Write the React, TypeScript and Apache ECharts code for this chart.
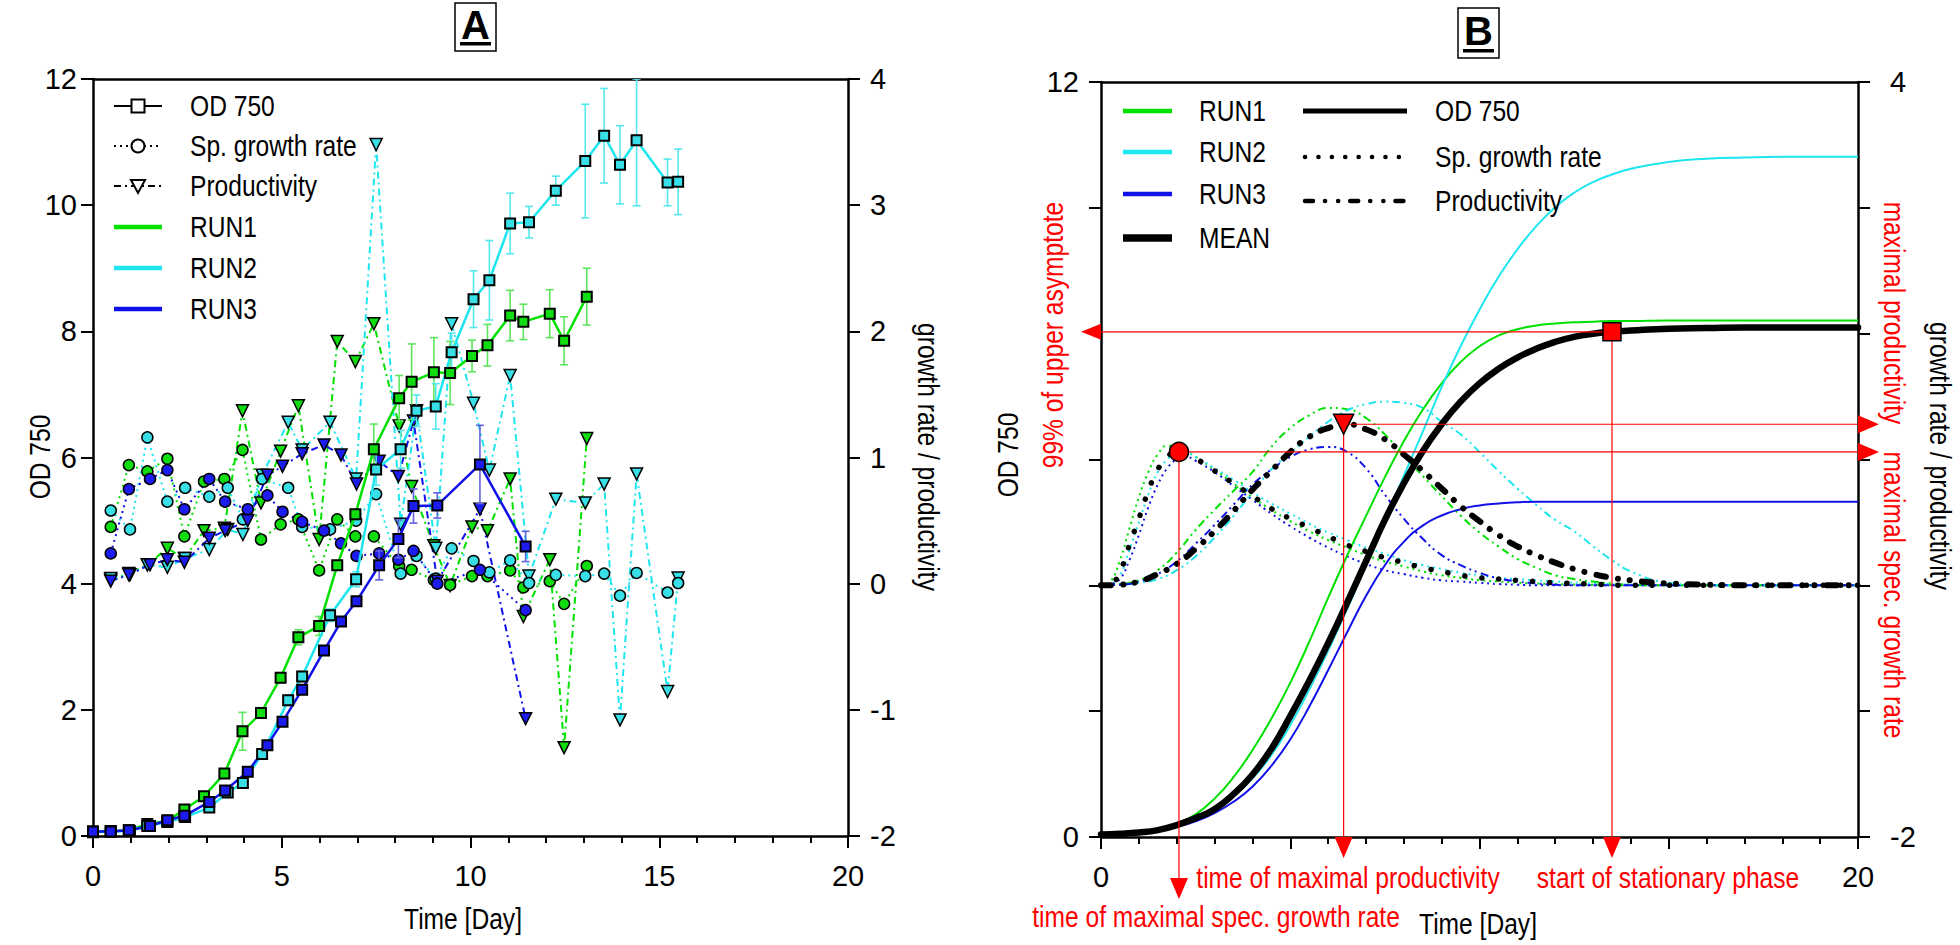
import React, { useEffect, useRef } from 'react';
import * as echarts from 'echarts';

// ---------------- Panel A : measured data ----------------
const run1Days = [0, 0.47, 0.95, 1.44, 1.97, 2.42, 2.94, 3.48, 3.96, 4.45, 4.97, 5.44, 5.99, 6.47, 6.95, 7.44, 8.11, 8.44, 9.03, 9.46, 10.04, 10.45, 11.05, 11.4, 12.1, 12.48, 13.08];
const run1OD = [0.07, 0.08, 0.09, 0.19, 0.24, 0.42, 0.63, 0.99, 1.66, 1.95, 2.51, 3.15, 3.33, 4.29, 5.1, 6.13, 6.94, 7.2, 7.35, 7.34, 7.61, 7.78, 8.25, 8.15, 8.28, 7.85, 8.55];
const run1ODErr = [0, 0, 0, 0.02, 0.03, 0.03, 0.04, 0.05, 0.3, 0.05, 0.08, 0.12, 0.15, 0.05, 0.08, 0.4, 0.36, 0.6, 0.55, 0.5, 0.25, 0.33, 0.4, 0.28, 0.38, 0.38, 0.45];
const run1Mu = [null, 0.45, 0.94, 0.89, 0.99, 0.375, 0.81, 0.83, 1.06, 0.35, 0.47, 0.51, 0.105, 0.51, 0.375, 0.375, 0.14, 0.11, 0.03, -0.01, 0.06, 0.06, 0.105, -0.03, 0.02, -0.16, 0.14];
const run1Prod = [null, 0.03, 0.08, 0.15, 0.28, 0.2, 0.42, 0.44, 1.37, 0.64, 1.05, 1.41, 0.35, 1.92, 1.76, 2.06, 1.25, 0.77, 0.3, -0.015, 0.45, 0.42, 0.83, -0.26, 0.19, -1.3, 1.15];

const run2Days = [0, 0.47, 0.98, 1.44, 1.97, 2.44, 3.08, 3.57, 3.97, 4.48, 5.17, 5.54, 6.28, 6.97, 7.5, 8.15, 8.57, 9.08, 9.5, 10.08, 10.5, 11.05, 11.55, 12.26, 13.04, 13.54, 13.96, 14.4, 15.22, 15.5];
const run2OD = [0.06, 0.07, 0.08, 0.16, 0.22, 0.3, 0.45, 0.69, 0.84, 1.3, 2.15, 2.53, 3.5, 4.07, 5.81, 6.13, 6.74, 6.81, 7.67, 8.51, 8.81, 9.71, 9.73, 10.23, 10.7, 11.1, 10.64, 11.03, 10.36, 10.37];
const run2ODErr = [0, 0, 0, 0.02, 0.02, 0.03, 0.03, 0.04, 0.05, 0.06, 0.08, 0.08, 0.1, 0.12, 0.25, 0.3, 0.25, 0.36, 0.3, 0.45, 0.63, 0.48, 0.25, 0.23, 0.9, 0.75, 0.62, 1.04, 0.37, 0.52];
const run2Mu = [null, 0.58, 0.43, 1.16, 0.65, 0.76, 0.69, 0.76, 0.51, 0.83, 0.76, 0.45, 0.43, 0.5, 0.71, 0.08, 0.22, 0.04, 0.28, 0.18, 0.09, 0.185, 0.005, 0.07, 0.06, 0.08, -0.095, 0.085, -0.07, 0.005];
const run2Prod = [null, 0.04, 0.07, 0.15, 0.13, 0.2, 0.27, 0.43, 0.39, 0.86, 1.28, 1.06, 1.28, 0.83, 3.48, 0.47, 1.37, 0.28, 2.06, 1.43, 0.9, 1.65, 0.06, 0.67, 0.64, 0.79, -1.08, 0.87, -0.855, 0.045];

const run3Days = [0, 0.47, 0.95, 1.51, 1.97, 2.42, 3.08, 3.5, 4.1, 4.62, 5.02, 5.54, 6.12, 6.57, 6.98, 7.58, 8.09, 8.49, 9.12, 10.25, 11.46];
const run3OD = [0.07, 0.07, 0.09, 0.16, 0.25, 0.32, 0.54, 0.72, 1.02, 1.44, 1.81, 2.32, 2.94, 3.4, 3.72, 4.29, 4.71, 5.23, 5.24, 5.89, 4.59];
const run3ODErr = [0, 0, 0, 0, 0.02, 0.02, 0.03, 0.03, 0.04, 0.04, 0.05, 0.05, 0.06, 0.06, 0.07, 0.23, 0.3, 0.27, 0.2, 0.62, 0.24];
const run3Mu = [null, 0.24, 0.75, 0.83, 0.9, 0.59, 0.83, 0.65, 0.59, 0.7, 0.57, 0.49, 0.42, 0.32, 0.22, 0.24, 0.19, 0.26, 0.0, 0.11, -0.21];
const run3Prod = [null, 0.02, 0.07, 0.15, 0.19, 0.17, 0.36, 0.42, 0.5, 0.86, 0.93, 1.03, 1.1, 1.02, 0.79, 0.97, 0.85, 1.29, 0.02, 0.59, -1.07];

// ---------------- Panel B : fitted curves ----------------
const fitDays = [0, 0.5, 1, 1.5, 2, 2.5, 3, 3.5, 4, 4.5, 5, 5.5, 6, 6.5, 7, 7.5, 8, 8.5, 9, 9.5, 10, 10.5, 11, 11.5, 12, 12.5, 13, 13.5, 14, 15, 16, 17, 18, 19, 20];
const fitRun1OD = [0.04, 0.05, 0.08, 0.13, 0.21, 0.36, 0.61, 0.95, 1.38, 1.88, 2.45, 3.1, 3.8, 4.47, 5.1, 5.72, 6.29, 6.79, 7.21, 7.55, 7.8, 7.97, 8.07, 8.13, 8.16, 8.18, 8.19, 8.2, 8.2, 8.21, 8.21, 8.21, 8.21, 8.21, 8.21];
const fitRun2OD = [0.03, 0.04, 0.06, 0.11, 0.18, 0.29, 0.45, 0.66, 0.93, 1.3, 1.78, 2.34, 2.96, 3.62, 4.32, 5.03, 5.74, 6.44, 7.15, 7.8, 8.38, 8.9, 9.34, 9.71, 10.01, 10.24, 10.41, 10.53, 10.62, 10.73, 10.78, 10.8, 10.81, 10.81, 10.81];
const fitRun3OD = [0.03, 0.04, 0.05, 0.09, 0.16, 0.25, 0.38, 0.56, 0.8, 1.13, 1.55, 2.07, 2.65, 3.25, 3.83, 4.32, 4.69, 4.95, 5.11, 5.21, 5.27, 5.3, 5.32, 5.33, 5.33, 5.33, 5.33, 5.33, 5.33, 5.33, 5.33, 5.33, 5.33, 5.33, 5.33];
const fitMeanOD = [0.04, 0.05, 0.07, 0.11, 0.19, 0.3, 0.44, 0.68, 0.99, 1.4, 1.92, 2.48, 3.08, 3.72, 4.38, 5.04, 5.62, 6.13, 6.56, 6.92, 7.21, 7.44, 7.62, 7.76, 7.87, 7.95, 8.0, 8.03, 8.05, 8.08, 8.09, 8.1, 8.1, 8.1, 8.1];

const fitRun1Prod = [0, 0.01, 0.04, 0.12, 0.26, 0.44, 0.6, 0.75, 0.9, 1.1, 1.25, 1.35, 1.41, 1.4, 1.33, 1.2, 1.03, 0.87, 0.71, 0.555, 0.42, 0.31, 0.21, 0.14, 0.08, 0.05, 0.03, 0.015, 0.005, 0, 0, 0, 0, 0, 0];
const fitRun2Prod = [0, 0.005, 0.02, 0.05, 0.12, 0.23, 0.38, 0.55, 0.74, 0.92, 1.05, 1.18, 1.3, 1.39, 1.44, 1.46, 1.45, 1.41, 1.3, 1.2, 1.06, 0.91, 0.77, 0.64, 0.52, 0.43, 0.31, 0.2, 0.11, 0.02, 0, 0, 0, 0, 0];
const fitRun3Prod = [0, 0.005, 0.03, 0.09, 0.19, 0.33, 0.48, 0.64, 0.8, 0.92, 1.02, 1.08, 1.1, 1.06, 0.93, 0.72, 0.53, 0.37, 0.24, 0.16, 0.1, 0.055, 0.03, 0.015, 0.005, 0, 0, 0, 0, 0, 0, 0, 0, 0, 0];
const fitMeanProd = [0, 0.005, 0.03, 0.09, 0.17, 0.29, 0.43, 0.59, 0.76, 0.91, 1.06, 1.18, 1.25, 1.28, 1.24, 1.16, 1.04, 0.91, 0.77, 0.63, 0.51, 0.4, 0.31, 0.24, 0.18, 0.13, 0.09, 0.06, 0.04, 0.015, 0.005, 0, 0, 0, 0];

const muDays = [0, 0.25, 0.5, 0.75, 1, 1.25, 1.5, 1.75, 2, 2.25, 2.5, 3, 3.5, 4, 4.5, 5, 5.5, 6, 6.5, 7, 7.5, 8, 8.5, 9, 9.5, 10, 10.5, 11, 11.5, 12, 13, 14, 15, 16, 18, 20];
const fitRun1Mu = [0, 0.03, 0.2, 0.45, 0.7, 0.9, 1.04, 1.11, 1.11, 1.07, 1.02, 0.92, 0.81, 0.7, 0.6, 0.51, 0.43, 0.36, 0.3, 0.24, 0.19, 0.15, 0.11, 0.08, 0.06, 0.04, 0.03, 0.02, 0.015, 0.01, 0.005, 0, 0, 0, 0, 0];
const fitRun2Mu = [0, 0.01, 0.08, 0.28, 0.5, 0.72, 0.9, 1.0, 1.05, 1.05, 1.02, 0.93, 0.84, 0.74, 0.65, 0.57, 0.49, 0.42, 0.36, 0.3, 0.25, 0.2, 0.16, 0.13, 0.1, 0.08, 0.06, 0.05, 0.04, 0.03, 0.015, 0.005, 0, 0, 0, 0];
const fitRun3Mu = [0, 0.01, 0.05, 0.2, 0.4, 0.62, 0.8, 0.93, 1.0, 1.02, 0.99, 0.9, 0.79, 0.68, 0.57, 0.47, 0.38, 0.3, 0.23, 0.17, 0.12, 0.09, 0.06, 0.04, 0.03, 0.02, 0.01, 0.005, 0, 0, 0, 0, 0, 0, 0, 0];
const fitMeanMu = [0, 0.01, 0.11, 0.32, 0.53, 0.75, 0.92, 1.02, 1.06, 1.05, 1.01, 0.91, 0.81, 0.71, 0.61, 0.53, 0.46, 0.39, 0.32, 0.27, 0.22, 0.18, 0.14, 0.11, 0.08, 0.06, 0.05, 0.04, 0.03, 0.02, 0.01, 0, 0, 0, 0, 0];

// characteristic points of the mean curve
const maxMuDay = 2.06;
const maxMu = 1.06;
const maxProdDay = 6.41;
const maxProd = 1.28;
const stationaryDay = 13.5;
const asymptote99 = 8.03;

// ---------------- styling ----------------
const FONT = '"Liberation Sans", Arial, sans-serif';
const NARROW = 0.82;
const GREEN = '#00e100';
const CYAN = '#1ee6ef';
const BLUE = '#1010e8';
const RED = '#ff0000';

const pairs = (ts: number[], vs: (number | null)[]) =>
  ts.map((t, i) => (vs[i] == null ? null : [t, vs[i] as number])).filter((p) => p !== null) as number[][];

export default function App() {
  const ref = useRef<HTMLDivElement>(null);
  useEffect(() => {
    document.body.style.margin = '0';
    const chart = echarts.init(ref.current as HTMLDivElement, null, { renderer: 'svg' });

    const axisLine = { show: true, onZero: false, lineStyle: { color: '#000', width: 2.5 } };
    const labelBase = { fontFamily: FONT, fontSize: 29, color: '#000' };
    const xBottom = (gridIndex: number, all: boolean) => ({
      type: 'value', gridIndex, position: 'bottom', min: 0, max: 20, interval: 5,
      axisLine,
      axisTick: { show: true, inside: false, length: 12, lineStyle: { color: '#000', width: 2 } },
      minorTick: { show: true, splitNumber: 5, length: 7, lineStyle: { color: '#000', width: 2 } },
      axisLabel: { ...labelBase, margin: 25, formatter: (v: number) => (all || v === 0 || v === 20 ? String(v) : '') },
      splitLine: { show: false }, minorSplitLine: { show: false },
    });
    const xTop = (gridIndex: number) => ({
      type: 'value', gridIndex, position: 'top', min: 0, max: 20,
      axisLine, axisTick: { show: false }, axisLabel: { show: false }, splitLine: { show: false },
    });
    const yAx = (gridIndex: number, pos: string, min: number, max: number, interval: number, margin: number, shown: number[] | null) => ({
      type: 'value', gridIndex, position: pos, min, max, interval,
      axisLine,
      axisTick: { show: true, inside: false, length: 12, lineStyle: { color: '#000', width: 2 } },
      axisLabel: { ...labelBase, margin, formatter: (v: number) => (shown === null || shown.includes(v) ? String(v) : '') },
      splitLine: { show: false },
    });

    const runs = [
      { days: run1Days, od: run1OD, err: run1ODErr, mu: run1Mu, prod: run1Prod, color: GREEN, fill: '#10dd10', errColor: '#5ce65c' },
      { days: run2Days, od: run2OD, err: run2ODErr, mu: run2Mu, prod: run2Prod, color: CYAN, fill: '#38dfe6', errColor: '#55e8ee' },
      { days: run3Days, od: run3OD, err: run3ODErr, mu: run3Mu, prod: run3Prod, color: BLUE, fill: '#1c1cee', errColor: '#6262dd' },
    ];

    const series: any[] = [];
    runs.forEach((r) => {
      series.push({
        type: 'line', xAxisIndex: 0, yAxisIndex: 1, data: pairs(r.days, r.prod),
        symbol: 'triangle', symbolRotate: 180, symbolSize: 12, showAllSymbol: true,
        lineStyle: { color: r.color, width: 2, type: [7, 4, 2, 4] },
        itemStyle: { color: r.fill, borderColor: '#000', borderWidth: 1.5 }, z: 3,
      });
      series.push({
        type: 'line', xAxisIndex: 0, yAxisIndex: 1, data: pairs(r.days, r.mu),
        symbol: 'circle', symbolSize: 11, showAllSymbol: true,
        lineStyle: { color: r.color, width: 2, type: [2, 4] },
        itemStyle: { color: r.fill, borderColor: '#000', borderWidth: 1.5 }, z: 3,
      });
    });
    runs.forEach((r) => {
      const errData = r.days
        .map((t, i) => [t, r.od[i] - r.err[i], r.od[i] + r.err[i], r.err[i]])
        .filter((d) => d[3] > 0.06);
      series.push({
        type: 'custom', xAxisIndex: 0, yAxisIndex: 0, data: errData, clip: true, z: 4,
        encode: { x: 0, y: [1, 2] },
        renderItem: (params: any, api: any) => {
          const x = api.value(0);
          const lo = api.coord([x, api.value(1)]);
          const hi = api.coord([x, Math.min(12, api.value(2))]);
          const w = 4;
          const st = { stroke: r.errColor, lineWidth: 1.6 };
          return {
            type: 'group',
            children: [
              { type: 'line', shape: { x1: hi[0], y1: hi[1], x2: lo[0], y2: lo[1] }, style: st },
              { type: 'line', shape: { x1: hi[0] - w, y1: hi[1], x2: hi[0] + w, y2: hi[1] }, style: st },
              { type: 'line', shape: { x1: lo[0] - w, y1: lo[1], x2: lo[0] + w, y2: lo[1] }, style: st },
            ],
          };
        },
      });
      series.push({
        type: 'line', xAxisIndex: 0, yAxisIndex: 0, data: pairs(r.days, r.od),
        symbol: 'rect', symbolSize: 10, showAllSymbol: true,
        lineStyle: { color: r.color, width: 2.5 },
        itemStyle: { color: r.fill, borderColor: '#000', borderWidth: 2 }, z: 5,
      });
    });

    // Panel B curves
    const fitLine = (days: number[], vals: number[], yi: number, color: string, width: number, type: any, cap = 'butt', z = 3) => ({
      type: 'line', xAxisIndex: 2, yAxisIndex: yi, data: pairs(days, vals), symbol: 'none',
      smooth: 0.5,
      lineStyle: { color, width, type, cap }, z,
    });
    series.push(fitLine(muDays, fitRun1Mu, 3, GREEN, 2, [2, 4]));
    series.push(fitLine(muDays, fitRun2Mu, 3, CYAN, 2, [2, 4]));
    series.push(fitLine(muDays, fitRun3Mu, 3, BLUE, 2, [2, 4]));
    series.push(fitLine(fitDays, fitRun1Prod, 3, GREEN, 2, [8, 4, 2, 4, 2, 4]));
    series.push(fitLine(fitDays, fitRun2Prod, 3, CYAN, 2, [8, 4, 2, 4, 2, 4]));
    series.push(fitLine(fitDays, fitRun3Prod, 3, BLUE, 2, [8, 4, 2, 4, 2, 4]));
    series.push(fitLine(fitDays, fitRun1OD, 2, GREEN, 2, 'solid'));
    series.push(fitLine(fitDays, fitRun2OD, 2, CYAN, 2, 'solid'));
    series.push(fitLine(fitDays, fitRun3OD, 2, BLUE, 2, 'solid'));
    series.push(fitLine(muDays, fitMeanMu, 3, '#000', 5.5, [0.1, 17], 'round', 4));
    series.push(fitLine(fitDays, fitMeanProd, 3, '#000', 6, [10, 12, 0.1, 12, 0.1, 12], 'round', 4));
    series.push(fitLine(fitDays, fitMeanOD, 2, '#000', 6.5, 'solid', 'round', 5));

    const redMark = (data: number[][], yi: number, symbol: string, size: number, rotate = 0) => ({
      type: 'scatter', xAxisIndex: 2, yAxisIndex: yi, data, symbol, symbolSize: size, symbolRotate: rotate,
      itemStyle: { color: RED, borderColor: '#000', borderWidth: 1.5, opacity: 1 }, z: 20,
    });
    series.push(redMark([[maxMuDay, maxMu]], 3, 'circle', 19));
    series.push(redMark([[maxProdDay, maxProd]], 3, 'triangle', 20, 180));
    series.push(redMark([[stationaryDay, asymptote99]], 2, 'rect', 18));

    chart.setOption({
      animation: false,
      backgroundColor: '#fff',
      grid: [
        { left: 93, top: 79, width: 755, height: 757 },
        { left: 1101, top: 82, width: 757, height: 755 },
      ],
      xAxis: [xBottom(0, true), xTop(0), xBottom(1, false), xTop(1)],
      yAxis: [
        yAx(0, 'left', 0, 12, 2, 16, null),
        yAx(0, 'right', -2, 4, 1, 22, null),
        yAx(1, 'left', 0, 12, 2, 22, [0, 12]),
        yAx(1, 'right', -2, 4, 1, 32, [4, -2]),
      ],
      series,
    });

    // ---------- graphic overlays ----------
    const X = (t: number) => chart.convertToPixel({ xAxisIndex: 2 } as any, t) as unknown as number;
    const YL = (v: number) => chart.convertToPixel({ yAxisIndex: 2 } as any, v) as unknown as number;
    const YR = (v: number) => chart.convertToPixel({ yAxisIndex: 3 } as any, v) as unknown as number;

    const g: any[] = [];
    const text = (x: number, y: number, s: string, opts: any = {}) =>
      g.push({
        type: 'text', x, y, rotation: opts.rot || 0, scaleX: opts.sx || NARROW, scaleY: 1, z: 100,
        style: {
          text: s, fill: opts.fill || '#000', font: opts.font || `30px ${FONT}`,
          textAlign: opts.align || 'center', textVerticalAlign: 'middle',
        },
      });
    const line = (x1: number, y1: number, x2: number, y2: number, stroke: string, lineWidth: number, lineDash: any = null, cap = 'butt', z = 100) =>
      g.push({ type: 'line', z, shape: { x1, y1, x2, y2 }, style: { stroke, lineWidth, lineDash, lineCap: cap } });
    const poly = (points: number[][], fill: string, z = 100) =>
      g.push({ type: 'polygon', z, shape: { points }, style: { fill } });

    // titles
    g.push({ type: 'rect', z: 100, shape: { x: 455, y: 3, width: 41, height: 48 }, style: { fill: 'none', stroke: '#000', lineWidth: 1.5 } });
    text(475.5, 25, 'A', { font: `bold 40px ${FONT}`, sx: 1 });
    g.push({ type: 'rect', z: 100, shape: { x: 460, y: 42, width: 31, height: 3.5 }, style: { fill: '#000' } });
    g.push({ type: 'rect', z: 100, shape: { x: 1458, y: 8, width: 41, height: 50 }, style: { fill: 'none', stroke: '#000', lineWidth: 1.5 } });
    text(1478.5, 31, 'B', { font: `bold 40px ${FONT}`, sx: 1 });
    g.push({ type: 'rect', z: 100, shape: { x: 1463, y: 49, width: 31, height: 3.5 }, style: { fill: '#000' } });

    // axis titles
    text(40, 457, 'OD 750', { rot: Math.PI / 2 });
    text(928, 457, 'growth rate / productivity', { rot: -Math.PI / 2 });
    text(463, 919, 'Time [Day]');
    text(1008, 455, 'OD 750', { rot: Math.PI / 2 });
    text(1940, 456, 'growth rate / productivity', { rot: -Math.PI / 2 });
    text(1478, 924, 'Time [Day]');

    // legend A
    const lxA1 = 114, lxA2 = 162, ltA = 190;
    const lyA = [106, 146, 186, 227, 268, 309];
    line(lxA1, lyA[0], lxA2, lyA[0], '#000', 2);
    g.push({ type: 'rect', z: 101, shape: { x: 131.5, y: lyA[0] - 6.5, width: 13, height: 13 }, style: { fill: '#fff', stroke: '#000', lineWidth: 2 } });
    line(lxA1, lyA[1], lxA2, lyA[1], '#000', 2, [2, 4]);
    g.push({ type: 'circle', z: 101, shape: { cx: 138, cy: lyA[1], r: 6.5 }, style: { fill: '#fff', stroke: '#000', lineWidth: 2 } });
    line(lxA1, lyA[2], lxA2, lyA[2], '#000', 2, [7, 4, 2, 4]);
    g.push({ type: 'polygon', z: 101, shape: { points: [[131, lyA[2] - 6], [145, lyA[2] - 6], [138, lyA[2] + 7]] }, style: { fill: '#fff', stroke: '#000', lineWidth: 2 } });
    line(lxA1, lyA[3], lxA2, lyA[3], GREEN, 4.5);
    line(lxA1, lyA[4], lxA2, lyA[4], CYAN, 4.5);
    line(lxA1, lyA[5], lxA2, lyA[5], BLUE, 4.5);
    ['OD 750', 'Sp. growth rate', 'Productivity', 'RUN1', 'RUN2', 'RUN3'].forEach((s, i) => text(ltA, lyA[i], s, { align: 'left' }));

    // legend B
    const lyB1 = [111, 152, 194, 238];
    line(1123, lyB1[0], 1172, lyB1[0], GREEN, 4.5);
    line(1123, lyB1[1], 1172, lyB1[1], CYAN, 4.5);
    line(1123, lyB1[2], 1172, lyB1[2], BLUE, 4.5);
    line(1123, lyB1[3], 1172, lyB1[3], '#000', 7.5);
    ['RUN1', 'RUN2', 'RUN3', 'MEAN'].forEach((s, i) => text(1199, lyB1[i], s, { align: 'left' }));
    const lyB2 = [111, 157, 201];
    line(1303, lyB2[0], 1407, lyB2[0], '#000', 5);
    line(1305, lyB2[1], 1402, lyB2[1], '#000', 4.5, [0.1, 13.3], 'round');
    line(1305, lyB2[2], 1405, lyB2[2], '#000', 4.5, [8, 12, 0.1, 13, 0.1, 12], 'round');
    ['OD 750', 'Sp. growth rate', 'Productivity'].forEach((s, i) => text(1435, lyB2[i], s, { align: 'left' }));

    // red annotations in panel B
    const x0 = X(0), x20 = X(20), yb = YL(0);
    const cx = X(maxMuDay), cy = YR(maxMu);
    const tx = X(maxProdDay), ty = YR(maxProd);
    const sx = X(stationaryDay), sy = YL(asymptote99);
    line(cx, cy, x20, cy, RED, 1.2, null, 'butt', 15);
    poly([[x20, cy - 9], [x20, cy + 9], [x20 + 21, cy]], RED);
    line(cx, cy, cx, yb + 45, RED, 1.2, null, 'butt', 15);
    poly([[cx - 9, yb + 41], [cx + 9, yb + 41], [cx, yb + 62]], RED);
    line(tx, ty, x20, ty, RED, 1.2, null, 'butt', 15);
    poly([[x20, ty - 9], [x20, ty + 9], [x20 + 21, ty]], RED);
    line(tx, ty, tx, yb + 2, RED, 1.2, null, 'butt', 15);
    poly([[tx - 9, yb], [tx + 9, yb], [tx, yb + 21]], RED);
    line(x0, sy, sx, sy, RED, 1.2, null, 'butt', 15);
    poly([[x0, sy - 8], [x0, sy + 8], [x0 - 20, sy]], RED);
    line(sx, sy, sx, yb + 2, RED, 1.2, null, 'butt', 15);
    poly([[sx - 9, yb], [sx + 9, yb], [sx, yb + 21]], RED);

    text(1216, 917, 'time of maximal spec. growth rate', { fill: RED });
    text(1348, 878, 'time of maximal productivity', { fill: RED });
    text(1668, 878, 'start of stationary phase', { fill: RED });
    text(1053, 335, '99% of upper asymptote', { fill: RED, rot: Math.PI / 2 });
    text(1894, 313, 'maximal productivity', { fill: RED, rot: -Math.PI / 2 });
    text(1894, 595, 'maximal spec. growth rate', { fill: RED, rot: -Math.PI / 2 });

    chart.setOption({ graphic: g });

    return () => chart.dispose();
  }, []);
  return <div ref={ref} style={{ position: 'fixed', left: 0, top: 0, width: 1960, height: 945, background: '#fff' }} />;
}
